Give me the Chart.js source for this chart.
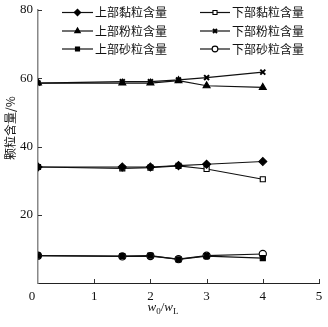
<!DOCTYPE html>
<html>
<head>
<meta charset="utf-8">
<script src="https://cdn.jsdelivr.net/npm/chart.js@4/dist/chart.umd.min.js"></script>
<style>
  html, body { margin: 0; padding: 0; background: #fff; }
  #wrap { width: 328px; height: 327px; position: relative; }
</style>
</head>
<body>
<div id="wrap"><canvas id="c" width="328" height="327"></canvas></div>
<script>
// Moisture ratio w0/wL on the x axis
const ratio = [0, 1.5, 2, 2.5, 3, 4];

// Particle content (%) of the upper and lower layers
const clayUpper = [34.0, 34.0, 34.0, 34.4, 34.8, 35.6];
const clayLower = [34.0, 33.6, 33.8, 34.3, 33.4, 30.4];
const siltUpper = [58.6, 58.6, 58.6, 59.3, 57.8, 57.3];
const siltLower = [58.6, 59.0, 59.0, 59.5, 60.2, 61.8];
const sandUpper = [8.0, 7.9, 8.0, 6.9, 7.9, 7.3];
const sandLower = [8.0, 7.8, 7.9, 7.0, 8.0, 8.5];

const seriesLabels = ['上部黏粒含量', '下部黏粒含量', '上部粉粒含量', '下部粉粒含量', '上部砂粒含量', '下部砂粒含量'];
const xTicks = [0, 1, 2, 3, 4, 5];
const yTicks = [20, 40, 60, 80];

const serif = '"Liberation Serif", "DejaVu Serif", serif';
const cjk = '"Noto Sans CJK SC", sans-serif';

function pts(values) { return ratio.map((x, i) => ({ x: x, y: values[i] })); }

const styles = [
  { data: clayUpper, pointStyle: 'rectRot', fill: '#000', radius: 4 },
  { data: clayLower, pointStyle: 'rect', fill: '#fff', radius: 3.6 },
  { data: siltUpper, pointStyle: 'triangle', fill: '#000', radius: 4 },
  { data: siltLower, pointStyle: 'crossRot', fill: '#000', radius: 3.5 },
  { data: sandUpper, pointStyle: 'rect', fill: '#000', radius: 3.6 },
  { data: sandLower, pointStyle: 'circle', fill: '#fff', radius: 3.6 }
];

const datasets = styles.map((s, i) => ({
  label: seriesLabels[i],
  data: pts(s.data),
  borderColor: '#111',
  borderWidth: 1.2,
  pointStyle: s.pointStyle,
  pointRadius: s.radius,
  pointBackgroundColor: s.fill,
  pointBorderColor: '#000',
  pointBorderWidth: s.pointStyle === 'crossRot' ? 2 : 1.1,
  tension: 0,
  fill: false
}));

// Legend (two columns), inward ticks, tick labels and axis titles
const decor = {
  id: 'decor',
  afterDraw(chart) {
    const ctx = chart.ctx;
    const xs = chart.scales.x, ys = chart.scales.y;
    const area = chart.chartArea;
    ctx.save();

    // inward tick marks
    ctx.strokeStyle = '#333';
    ctx.lineWidth = 1;
    xTicks.forEach(v => {
      if (v === 0) return;
      const px = Math.round(xs.getPixelForValue(v)) + 0.5;
      ctx.beginPath(); ctx.moveTo(px, area.bottom); ctx.lineTo(px, area.bottom - 4); ctx.stroke();
    });
    yTicks.forEach(v => {
      const py = Math.round(ys.getPixelForValue(v)) + 0.5;
      ctx.beginPath(); ctx.moveTo(area.left, py); ctx.lineTo(area.left + 4, py); ctx.stroke();
    });

    // y title
    ctx.save();
    ctx.fillStyle = '#111';
    ctx.translate(10, 128);
    ctx.rotate(-Math.PI / 2);
    ctx.textAlign = 'center';
    ctx.textBaseline = 'middle';
    ctx.font = '12px ' + cjk;
    ctx.fillText('颗粒含量/%', 0, 0);
    ctx.restore();

    // tick labels
    ctx.fillStyle = '#111';
    ctx.font = '13px ' + serif;
    ctx.textAlign = 'center';
    ctx.textBaseline = 'middle';
    xTicks.forEach(v => {
      let px = xs.getPixelForValue(v);
      if (v === 0) px -= 6;
      ctx.fillText(String(v), px, area.bottom + 14);
    });
    ctx.textAlign = 'right';
    for (let k = 0; k < yTicks.length; k++) {
      const v = yTicks[k];
      ctx.fillText(String(v), area.left - 5, ys.getPixelForValue(v));
    }

    // x title: w0/wL
    const parts = [
      { t: 'w', f: 'italic 13px ' + serif, dy: 0 },
      { t: '0', f: '9px ' + serif, dy: 3 },
      { t: '/', f: '13px ' + serif, dy: 0 },
      { t: 'w', f: 'italic 13px ' + serif, dy: 0 },
      { t: 'L', f: '9px ' + serif, dy: 3 }
    ];
    let total = 0;
    parts.forEach(p => { ctx.font = p.f; p.w = ctx.measureText(p.t).width; total += p.w; });
    let cx = 163 - total / 2;
    ctx.textAlign = 'left';
    ctx.textBaseline = 'alphabetic';
    parts.forEach(p => { ctx.font = p.f; ctx.fillText(p.t, cx, 311 + p.dy); cx += p.w; });

    // legend
    const cols = [{ x0: 62, x1: 93, tx: 95 }, { x0: 200, x1: 230, tx: 232 }];
    const rows = [12.5, 31, 49];
    chart.data.datasets.forEach((ds, i) => {
      const c = cols[i % 2], ry = rows[Math.floor(i / 2)];
      ctx.strokeStyle = '#111';
      ctx.lineWidth = 1.2;
      ctx.beginPath(); ctx.moveTo(c.x0, ry); ctx.lineTo(c.x1, ry); ctx.stroke();
      ctx.fillStyle = ds.pointBackgroundColor;
      ctx.strokeStyle = '#000';
      ctx.lineWidth = ds.pointBorderWidth;
      Chart.helpers.drawPoint(ctx, { pointStyle: ds.pointStyle, radius: ds.pointRadius * 0.8, borderWidth: ds.pointBorderWidth }, (c.x0 + c.x1) / 2, ry);
      ctx.fillStyle = '#111';
      ctx.font = '12px ' + cjk;
      ctx.textAlign = 'left';
      ctx.textBaseline = 'middle';
      ctx.fillText(ds.label, c.tx, ry);
    });

    ctx.restore();
  }
};

new Chart(document.getElementById('c'), {
  type: 'line',
  data: { datasets: datasets },
  options: {
    responsive: false,
    animation: false,
    devicePixelRatio: 1,
    layout: { padding: { top: 10, right: 9, left: 0, bottom: 0 } },
    plugins: { legend: { display: false }, tooltip: { enabled: false } },
    scales: {
      x: {
        type: 'linear', min: 0, max: 5,
        ticks: { display: false, stepSize: 1 },
        grid: { display: false },
        border: { display: true, color: '#222', width: 1 },
        afterFit: s => { s.height = 44; }
      },
      y: {
        type: 'linear', min: 0, max: 80,
        ticks: { display: false, stepSize: 20 },
        grid: { display: false },
        border: { display: true, color: '#888', width: 1.5 },
        afterFit: s => { s.width = 38; }
      }
    }
  },
  plugins: [decor]
});
</script>
</body>
</html>
